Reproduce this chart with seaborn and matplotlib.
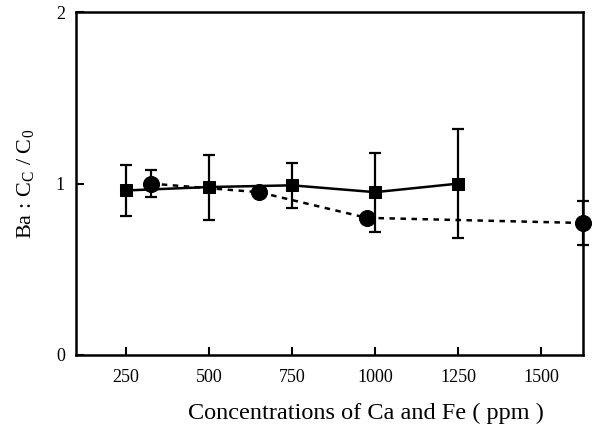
import numpy as np
import pandas as pd
import matplotlib
matplotlib.use("Agg")
import matplotlib.pyplot as plt
import seaborn as sns

# ── Data ────────────────────────────────────────────────────────────────
sq_x = [250, 500, 750, 1000, 1250]
sq_y = [0.96, 0.98, 0.99, 0.95, 1.00]
sq_err = [0.15, 0.19, 0.13, 0.23, 0.32]

ci_x = [325, 650, 975, 1625]
ci_y = [1.00, 0.95, 0.80, 0.77]
ci_err = [0.08, 0.0, 0.0, 0.13]

x_ticks = [250, 500, 750, 1000, 1250, 1500]
y_ticks = [0, 1, 2]

sns.set_style("ticks", {"axes.edgecolor": "black", "xtick.color": "black",
                        "ytick.color": "black", "text.color": "black",
                        "axes.labelcolor": "black"})
plt.rcParams["font.family"] = ["Liberation Serif", "DejaVu Serif"]
plt.rcParams["mathtext.fontset"] = "stix"

fig = plt.figure(figsize=(5.99, 4.28), dpi=100)
ax = fig.add_axes([0.127, 0.171, 0.846, 0.80])

sq = pd.DataFrame({"x": sq_x, "y": sq_y})
ci = pd.DataFrame({"x": ci_x, "y": ci_y})

# error bars first so markers sit on top
ax.errorbar(sq_x, sq_y, yerr=sq_err, fmt="none", ecolor="black",
            elinewidth=1.6, capsize=4.2, capthick=1.6, zorder=2)
ax.errorbar(ci_x, ci_y, yerr=ci_err, fmt="none", ecolor="black",
            elinewidth=1.6, capsize=4.2, capthick=1.6, zorder=2,
            clip_on=False)

sns.lineplot(data=sq, x="x", y="y", ax=ax, color="black", linewidth=1.8,
             marker="s", markersize=8.5, markeredgecolor="black",
             zorder=3, clip_on=False)
sns.lineplot(data=ci, x="x", y="y", ax=ax, color="black", linewidth=1.8,
             linestyle=(0, (2.2, 2.2)), marker="o", markersize=11.5,
             markeredgecolor="black", zorder=3, clip_on=False)

ax.set_xlim(100, 1625)
ax.set_ylim(0, 2)
ax.set_xticks(x_ticks)
ax.set_yticks(y_ticks)
ax.tick_params(direction="in", length=6, width=1.5, labelsize=13,
               top=False, right=False, pad=10, colors="black")
ax.tick_params(axis="y", pad=8)
for s in ax.spines.values():
    s.set_linewidth(1.8)
    s.set_color("black")

ax.set_xlabel("Concentrations of Ca and Fe ( ppm )", fontsize=17.5)
ax.xaxis.set_label_coords(0.572, -0.14)
ax.set_ylabel(r"Ba : C$_\mathregular{C}$ / C$_\mathregular{0}$",
              fontsize=16, labelpad=14)

plt.savefig("out.png", dpi=100)
plt.close()
